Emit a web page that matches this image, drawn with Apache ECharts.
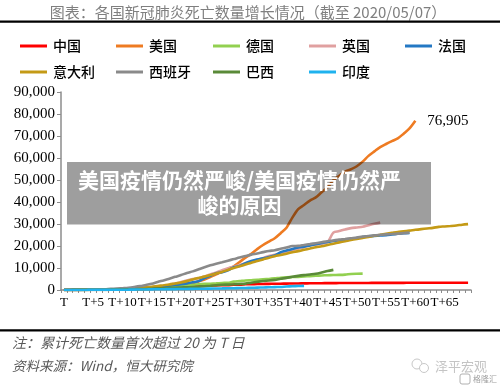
<!DOCTYPE html>
<html>
<head>
<meta charset="utf-8">
<script src="https://cdn.jsdelivr.net/npm/echarts@6/dist/echarts.min.js"></script>
<style>
html,body{margin:0;padding:0;background:#fff;}
#c{width:500px;height:387px;}
</style>
</head>
<body>
<div id="c"></div>
<script>
const days = ["T","T+1","T+2","T+3","T+4","T+5","T+6","T+7","T+8","T+9",
"T+10","T+11","T+12","T+13","T+14","T+15","T+16","T+17","T+18","T+19",
"T+20","T+21","T+22","T+23","T+24","T+25","T+26","T+27","T+28","T+29",
"T+30","T+31","T+32","T+33","T+34","T+35","T+36","T+37","T+38","T+39",
"T+40","T+41","T+42","T+43","T+44","T+45","T+46","T+47","T+48","T+49",
"T+50","T+51","T+52","T+53","T+54","T+55","T+56","T+57","T+58","T+59",
"T+60","T+61","T+62","T+63","T+64","T+65","T+66","T+67","T+68","T+69"];

const yTicks = [0,10000,20000,30000,40000,50000,60000,70000,80000,90000];

const china = [26,42,56,82,131,133,171,213,259,361,425,490,562,632,717,804,904,1011,1111,1116,
1368,1520,1662,1765,1863,2002,2114,2236,2236,2441,2443,2593,2663,2715,2744,2788,2835,2870,2912,2945,
2981,3013,3042,3070,3097,3119,3136,3158,3169,3176,3189,3199,3213,3226,3237,3245,3249,3253,3259,3274,
3274,3281,3285,3291,3296,3299,3304,3308,3309,3316];

const usa = [21,22,28,36,40,47,54,63,85,108,118,200,244,307,427,552,706,942,1209,1581,
2026,2467,2978,3873,4757,5926,7087,8407,9619,10783,12722,14695,16478,18586,20463,22020,23529,25832,28325,32916,
36773,38664,40661,42094,44444,46622,49954,51949,53755,54881,56259,58355,60967,62996,64943,66369,67682,68922,71064,73431,
76905];

const germany = [27,28,44,67,84,94,123,157,206,267,342,433,533,645,775,
920,1107,1275,1444,1584,1810,2016,2349,2607,2767,2871,3022,3194,3294,3804,4052,4352,4459,4586,4862,
5033,5279,5575,5760,5877,5976,6126,6314,6467,6623,6736,6812,6866,6993,7275,7392,7450];

const uk = [21,35,55,71,104,144,177,233,281,335,422,465,578,759,1019,1228,1408,1789,
2352,2921,3605,4313,4934,5373,6159,7097,7978,8958,9875,10612,11329,12107,12868,13729,14576,15464,16060,16509,
17337,18100,18738,19506,20319,20732,21092,21678,26097,26771,27510,28131,28446,28734,29427,30076,30615];

const france = [25,33,48,61,79,91,127,148,175,264,372,450,562,674,860,1100,1331,1696,1995,2314,2606,3024,3523,
4032,5387,6507,7560,8078,8911,10328,10869,12210,13197,13832,14393,14967,15729,17167,17920,18681,19323,19718,20265,
20796,21340,21856,22245,22614,22856,23293,23660,24087,24376,24594,24760,24895,25201,25531,25809,25987];

const italy = [21,29,34,52,79,107,148,197,233,366,463,631,827,1016,1266,1441,1809,2158,2503,2978,
3405,4032,4825,5476,6077,6820,7503,8215,9134,10023,10779,11591,12428,13155,13915,14681,15362,15887,16523,17127,
17669,18279,18849,19468,19899,20465,21067,21645,22170,22745,23227,23660,24114,24648,25085,25549,25969,26384,26644,26977,
27359,27682,27967,28236,28710,28884,29079,29315,29684,29958];

const spain = [28,35,54,55,133,195,289,342,533,623,830,1043,1375,1772,2311,2808,3647,4365,5138,5982,
6803,7716,8464,9387,10348,11198,11947,12641,13341,14045,14792,15447,16081,16606,17209,17756,18056,18708,19315,20002,
20043,20453,20852,21282,21717,22157,22524,22902,23190,23521,23822,24275,24543,24824,25100,25264,25428,25613,25857,26070];

const brazil = [25,34,46,59,77,92,111,136,159,201,
240,324,359,445,486,564,686,819,950,1057,1124,1223,1328,1532,1736,1924,2141,2354,2462,2587,
2741,2906,3331,3704,4057,4286,4603,5083,5513,6006,6412,6761,7051,7367,7938,8588,9146];

const india = [20,24,27,32,35,58,72,72,86,99,136,150,178,226,246,288,331,358,393,405,
448,486,521,559,592,645,681,721,780,825,881,939,1008,1079,1154,1223,1323,1391,1566,1693,1785,1886];

const names = ["中国","美国","德国","英国","法国","意大利","西班牙","巴西","印度"];
const colors = ["#FF0000","#EE7B22","#92D050","#E0A0A0","#2478C4","#C49A16","#8A8A8A","#5A8A38","#1FB2EE"];
const values = [china, usa, germany, uk, france, italy, spain, brazil, india];

const chart = echarts.init(document.getElementById('c'), null, {renderer:'canvas'});

const legendPos = [[20,47],[116,47],[213,47],[309,47],[405,47],[20,73],[116,73],[213,73],[309,73]];
const legends = names.map((n,i)=>({
  data:[n], left: legendPos[i][0], top: legendPos[i][1]-8, itemWidth:27, itemHeight:3, itemGap:0,
  icon:'rect', selectedMode:false, padding:0, height:16,
  textStyle:{fontFamily:'Noto Sans CJK SC', fontSize:14, fontWeight:500, color:'#000', padding:[0,0,0,1]}
}));

const series = names.map((n,i)=>{
  const s = {
    name:n, type:'line', symbol:'none', smooth:0.3,
    lineStyle:{width:2.6, color:colors[i]}, itemStyle:{color:colors[i]},
    data: values[i]
  };
  if (i === 1) {
    s.endLabel = {show:true, distance:12,
      formatter:(p)=>Number(p.value).toLocaleString('en-US'),
      fontFamily:'Liberation Serif', fontSize:15, color:'#000'};
  }
  return s;
});

chart.setOption({
  animation:false,
  backgroundColor:'#fff',
  legend: legends,
  grid:{left:61, right:29, top:92, bottom:97, containLabel:false},
  xAxis:{type:'category', data:days, boundaryGap:true,
    axisLine:{lineStyle:{color:'#8C8C8C', width:1.5}},
    axisTick:{show:true, interval:0, length:3, lineStyle:{color:'#8C8C8C'}},
    axisLabel:{interval:4, fontFamily:'Liberation Serif', fontSize:13, color:'#000', margin:6},
    splitLine:{show:false}},
  yAxis:{type:'value', min:0, max:90000, interval:10000,
    axisLine:{show:true, lineStyle:{color:'#8C8C8C', width:1.5}},
    axisTick:{show:true, length:4, lineStyle:{color:'#8C8C8C'}},
    axisLabel:{fontFamily:'Liberation Serif', fontSize:15, color:'#000', margin:6,
      formatter:(v)=>Number(v).toLocaleString('en-US')},
    splitLine:{show:false}},
  series: series,
  graphic:[
    {type:'text', x:248, y:12.5, style:{text:'图表：各国新冠肺炎死亡数量增长情况（截至 2020/05/07）', fontFamily:'Noto Sans CJK SC', fontSize:15, fill:'#7F7F7F', align:'center', verticalAlign:'middle'}},
    {type:'rect', shape:{x:0,y:20.5,width:500,height:2.3}, style:{fill:'#000'}},
    {type:'rect', shape:{x:0,y:329.3,width:500,height:2.3}, style:{fill:'#000'}},
    {type:'text', x:12, y:342.5, style:{text:'注：累计死亡数量首次超过 20 为 T 日', fontFamily:'Noto Sans CJK SC', fontStyle:'italic', fontSize:14, fill:'#595959', verticalAlign:'middle'}},
    {type:'text', x:12, y:366, style:{text:'资料来源：Wind，恒大研究院', fontFamily:'Noto Sans CJK SC', fontStyle:'italic', fontSize:13.5, fill:'#595959', verticalAlign:'middle'}},
    {type:'circle', shape:{cx:417,cy:364,r:5}, style:{fill:'none', stroke:'#C8C8C8', lineWidth:1}},
    {type:'circle', shape:{cx:424,cy:368,r:4.5}, style:{fill:'#fff', stroke:'#C8C8C8', lineWidth:1}},
    {type:'text', x:435, y:366, style:{text:'泽平宏观', fontFamily:'Noto Sans CJK SC', fontSize:13, fill:'#C4C4C4', verticalAlign:'middle'}},
    {type:'rect', shape:{x:460,y:374,width:10,height:10,r:2}, style:{fill:'none', stroke:'#B0B0B0', lineWidth:1}},
    {type:'text', x:473, y:379, style:{text:'格隆汇', fontFamily:'Noto Sans CJK SC', fontSize:8, fill:'#A0A0A0', verticalAlign:'middle'}},
    {type:'rect', z:100, shape:{x:67,y:162,width:364,height:62.5}, style:{fill:'rgba(0,0,0,0.38)'}},
    {type:'text', z:101, x:239.5, y:179.7, style:{text:'美国疫情仍然严峻/美国疫情仍然严', fontFamily:'Noto Sans CJK SC', fontWeight:'bold', fontSize:21, fill:'#fff', align:'center', verticalAlign:'middle'}},
    {type:'text', z:101, x:239.5, y:205, style:{text:'峻的原因', fontFamily:'Noto Sans CJK SC', fontWeight:'bold', fontSize:21, fill:'#fff', align:'center', verticalAlign:'middle'}}
  ]
});
</script>
</body>
</html>
